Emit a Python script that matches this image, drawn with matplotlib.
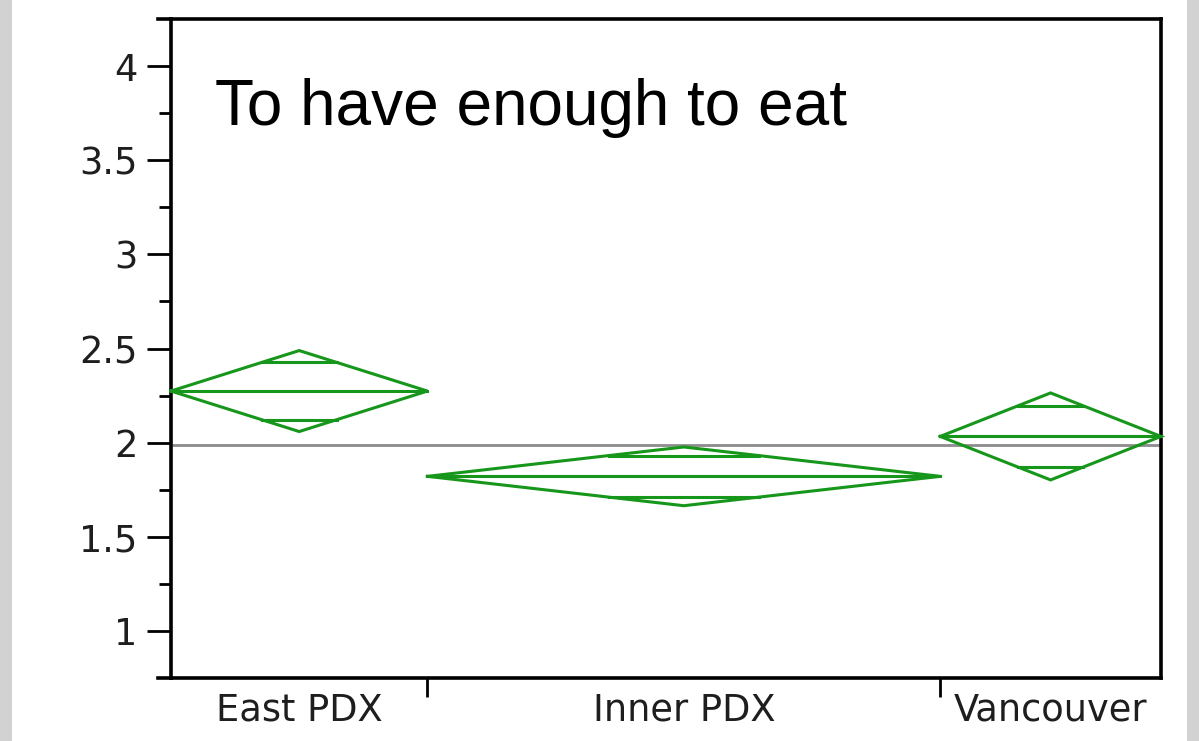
import numpy as np
import matplotlib
matplotlib.use('Agg')
import matplotlib.pyplot as plt
from matplotlib.patches import Rectangle
from matplotlib.lines import Line2D

# ── Group summaries (means diamonds) ──────────────────────────────────────
groups    = ["East PDX", "Inner PDX", "Vancouver"]
counts    = [36, 72, 31]            # group sizes set the column widths
means     = [2.274, 1.821, 2.033]
ci_half   = [0.215, 0.156, 0.231]   # 95% CI half-width
grand_mean = 1.986
title_text = "To have enough to eat"

y_ticks = [1, 1.5, 2, 2.5, 3, 3.5, 4]
y_tick_labels = ["1", "1.5", "2", "2.5", "3", "3.5", "4"]

GREEN = "#16961a"
LW = 2.2

fig = plt.figure(figsize=(11.99, 7.41), dpi=100)
fig.patch.set_facecolor("white")

# grey side strips
fig.patches.append(Rectangle((0, 0), 12 / 1199, 1, transform=fig.transFigure,
                             facecolor="#d2d2d2", edgecolor="none"))
fig.patches.append(Rectangle((1187 / 1199, 0), 12 / 1199, 1, transform=fig.transFigure,
                             facecolor="#d2d2d2", edgecolor="none"))

ax = fig.add_axes([171 / 1199, 63 / 741, 990 / 1199, 659 / 741])

edges = np.concatenate([[0], np.cumsum(counts)])
ax.set_xlim(edges[0], edges[-1])
ax.set_ylim(0.75, 4.25)

# grand mean line
ax.axhline(grand_mean, color="#8c8c8c", lw=2.0, zorder=1)

for i in range(len(groups)):
    x0, x1 = edges[i], edges[i + 1]
    xc = (x0 + x1) / 2
    m, h = means[i], ci_half[i]
    # diamond outline
    ax.plot([x0, xc, x1, xc, x0], [m, m + h, m, m - h, m],
            color=GREEN, lw=LW, solid_joinstyle="miter", zorder=3, clip_on=False)
    # mean line
    ax.plot([x0, x1], [m, m], color=GREEN, lw=LW, zorder=3, clip_on=False)
    # overlap marks at mean ± h/sqrt(2)
    o = h / np.sqrt(2)
    frac = 1 - o / h
    for s in (1, -1):
        ax.plot([xc - frac * (xc - x0), xc + frac * (x1 - xc)], [m + s * o, m + s * o],
                color=GREEN, lw=LW, zorder=3)

# axes styling
for sp in ax.spines.values():
    sp.set_linewidth(2.6)
    sp.set_color("black")

ax.set_yticks(y_ticks)
ax.set_yticklabels(y_tick_labels)
ax.set_yticks(np.arange(1.25, 4.25, 0.5), minor=True)
ax.tick_params(axis="y", which="major", length=17, width=2.0, pad=7,
               labelsize=26.5, labelcolor="#1e1e1e")
ax.tick_params(axis="y", which="minor", length=9, width=2.0)

# category boundaries as ticks, labels centred in each column
ax.set_xticks(edges[1:-1])
ax.set_xticklabels([])
ax.tick_params(axis="x", which="major", length=14, width=2.0)
ax.set_xticks((edges[:-1] + edges[1:]) / 2, minor=True)
ax.set_xticklabels(groups, minor=True)
ax.tick_params(axis="x", which="minor", length=0, pad=10,
               labelsize=26.5, labelcolor="#1e1e1e")

# small overhang of top and bottom frame lines
for yy in (0, 1):
    ax.add_line(Line2D([-0.013, 0], [yy, yy], transform=ax.transAxes,
                       color="black", lw=2.6, clip_on=False))

ax.text(0.044, 0.839, title_text, transform=ax.transAxes,
        fontsize=46, family="Liberation Sans", va="baseline", ha="left")

fig.savefig("out.png", dpi=100)
